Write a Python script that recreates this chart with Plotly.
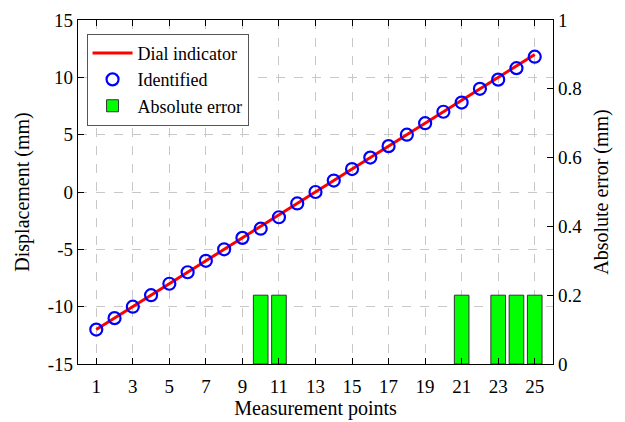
import plotly.graph_objects as go

points = list(range(1, 26))
dial = [-12, -11, -10, -9, -8, -7, -6, -5, -4, -3, -2, -1, 0, 1, 2, 3, 4, 5, 6, 7, 8, 9, 10, 11, 12]
identified = [-12, -11, -10, -9, -8, -7, -6, -5, -4, -3.2, -2.2, -1, 0, 1, 2, 3, 4, 5, 6, 7, 7.8, 9, 9.8, 10.8, 11.8]
abs_error = [None, None, None, None, None, None, None, None, None, 0.2, 0.2, None, None, None, None,
             None, None, None, None, None, 0.2, None, 0.2, 0.2, 0.2]
x_ticks = list(range(1, 26, 2))
y_ticks = [-15, -10, -5, 0, 5, 10, 15]
y_ticktext = ["-15", "-10", "-5", "0", "5", "10", "15"]
y2_ticks = [0, 0.2, 0.4, 0.6, 0.8, 1]
y2_ticktext = ["0", "0.2", "0.4", "0.6", "0.8", "1"]

font = "Liberation Serif"
fig = go.Figure()
fig.add_trace(go.Scatter(x=points, y=dial, mode="lines", name="Dial indicator",
                         line=dict(color="#ff0000", width=3)))
fig.add_trace(go.Scatter(x=points, y=identified, mode="markers", name="Identified",
                         marker=dict(symbol="circle-open", size=12, color="#0000ff",
                                     line=dict(width=2.2, color="#0000ff"))))
fig.add_trace(go.Bar(x=points, y=abs_error, name="Absolute error", yaxis="y2", width=0.8,
                     marker=dict(color="#00ff00", line=dict(color="#333333", width=1))))

axis_common = dict(showline=True, linecolor="black", linewidth=1.3, ticks="inside",
                   ticklen=6, tickcolor="black", tickfont=dict(family=font, size=19, color="black"),
                   zeroline=False, automargin=False)
fig.update_layout(
    width=625, height=422,
    margin=dict(l=78, r=72, t=20, b=58),
    plot_bgcolor="white", paper_bgcolor="white",
    font=dict(family=font, color="black"),
    showlegend=True,
    legend=dict(x=0.018, y=0.96, xanchor="left", yanchor="top", bgcolor="white",
                bordercolor="#555555", borderwidth=1, font=dict(family=font, size=18),
                tracegroupgap=0, itemwidth=40),
    xaxis=dict(range=[0, 26], tickvals=x_ticks, mirror="ticks", ticklabelstandoff=5,
               showgrid=True, gridcolor="#c8c8c8", griddash="dash", gridwidth=1,
               title=dict(text="Measurement points", font=dict(family=font, size=20), standoff=4),
               **axis_common),
    yaxis=dict(range=[-15, 15], tickvals=y_ticks, ticktext=y_ticktext,
               showgrid=True, gridcolor="#c8c8c8", griddash="dash", gridwidth=1,
               title=dict(text="Displacement (mm)", font=dict(family=font, size=20), standoff=12),
               **axis_common),
    yaxis2=dict(range=[0, 1], tickvals=y2_ticks, ticktext=y2_ticktext,
                overlaying="y", side="right", showgrid=False,
                title=dict(text="Absolute error (mm)", font=dict(family=font, size=20), standoff=12),
                **axis_common),
)
fig.write_html("out.html")
